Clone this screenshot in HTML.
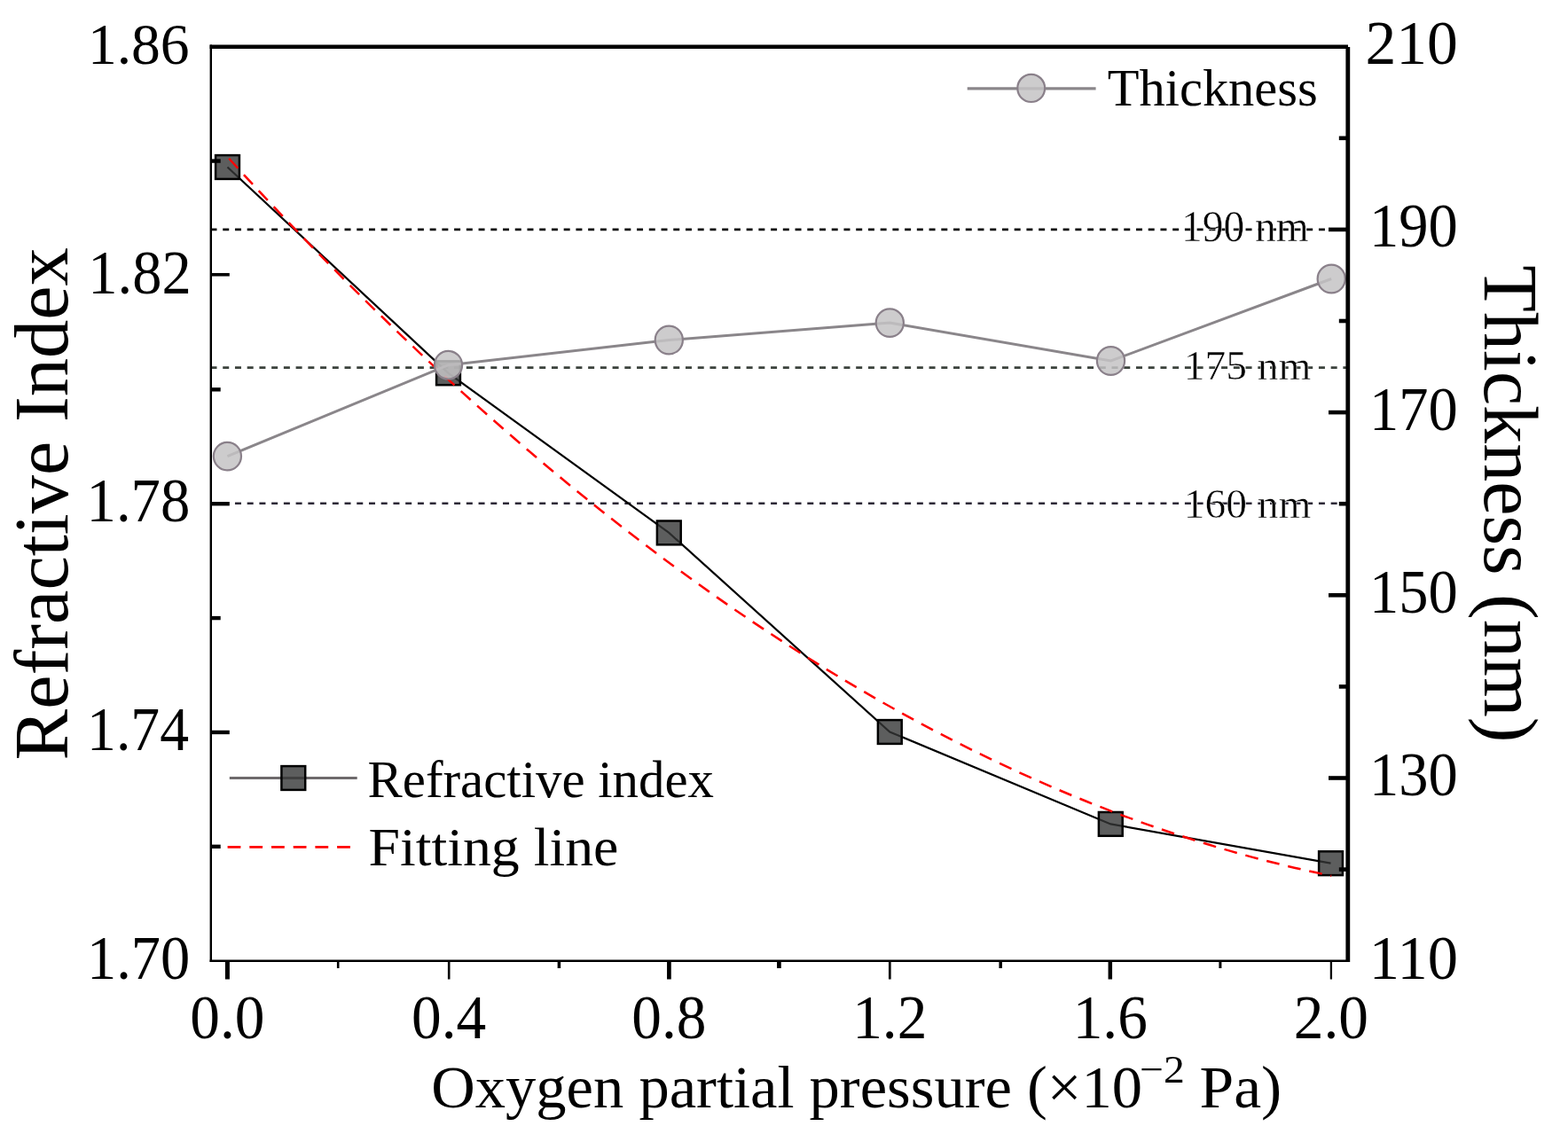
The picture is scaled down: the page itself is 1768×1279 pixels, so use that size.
<!DOCTYPE html>
<html><head><meta charset="utf-8"><title>Refractive index and thickness vs oxygen partial pressure</title>
<style>html,body{margin:0;padding:0;background:#fff;}svg{display:block;}text{font-family:"Liberation Serif","Times New Roman",serif;}</style>
</head><body>
<svg width="1768" height="1279" viewBox="0 0 1768 1279">
<rect x="0" y="0" width="1768" height="1279" fill="#fff"/>
<line x1="237.5" y1="258.9" x2="1518" y2="258.9" stroke="#111" stroke-width="2.6" stroke-dasharray="7 6.73"/>
<line x1="237.5" y1="414.6" x2="1518" y2="414.6" stroke="#3b423c" stroke-width="2.6" stroke-dasharray="7 6.73"/>
<line x1="237.5" y1="567.7" x2="1518" y2="567.7" stroke="#2c2836" stroke-width="2.6" stroke-dasharray="7 6.73"/>
<polyline points="256.5,188.5 505.5,420.8 754.3,600.9 1003.3,825.5 1252.3,929.4 1500.5,973.7" fill="none" stroke="#000" stroke-width="2.2"/>
<rect x="243.1" y="175.1" width="26.8" height="26.8" fill="#343636" fill-opacity="0.8" stroke="#000" stroke-width="2.5"/>
<rect x="492.1" y="407.4" width="26.8" height="26.8" fill="#343636" fill-opacity="0.8" stroke="#000" stroke-width="2.5"/>
<rect x="740.9" y="587.5" width="26.8" height="26.8" fill="#343636" fill-opacity="0.8" stroke="#000" stroke-width="2.5"/>
<rect x="989.9" y="812.1" width="26.8" height="26.8" fill="#343636" fill-opacity="0.8" stroke="#000" stroke-width="2.5"/>
<rect x="1238.9" y="916" width="26.8" height="26.8" fill="#343636" fill-opacity="0.8" stroke="#000" stroke-width="2.5"/>
<rect x="1487.1" y="960.3" width="26.8" height="26.8" fill="#343636" fill-opacity="0.8" stroke="#000" stroke-width="2.5"/>
<path d="M256.5,176.91 Q878.85,860.23 1501.2,987.83" fill="none" stroke="#ff0000" stroke-width="2.5" stroke-dasharray="14.8 9.9" stroke-dashoffset="-2.5"/>
<polyline points="256.4,514.6 505.5,411.7 754.3,383.5 1003.3,364.1 1252.5,407 1501.2,314.5" fill="none" stroke="#8a868a" stroke-width="3"/>
<ellipse cx="256.4" cy="514.6" rx="15.6" ry="15.8" fill="#c4c3c4" fill-opacity="0.85" stroke="#8a808a" stroke-width="2.2"/>
<ellipse cx="505.5" cy="411.7" rx="15.6" ry="15.8" fill="#c4c3c4" fill-opacity="0.85" stroke="#8a808a" stroke-width="2.2"/>
<ellipse cx="754.3" cy="383.5" rx="15.6" ry="15.8" fill="#c4c3c4" fill-opacity="0.85" stroke="#8a808a" stroke-width="2.2"/>
<ellipse cx="1003.3" cy="364.1" rx="15.6" ry="15.8" fill="#c4c3c4" fill-opacity="0.85" stroke="#8a808a" stroke-width="2.2"/>
<ellipse cx="1252.5" cy="407" rx="15.6" ry="15.8" fill="#c4c3c4" fill-opacity="0.85" stroke="#8a808a" stroke-width="2.2"/>
<ellipse cx="1501.2" cy="314.5" rx="15.6" ry="15.8" fill="#c4c3c4" fill-opacity="0.85" stroke="#8a808a" stroke-width="2.2"/>
<line x1="237.8" y1="50.5" x2="237.8" y2="1085" stroke="#000" stroke-width="2.4"/>
<line x1="236.6" y1="52.75" x2="1520" y2="52.75" stroke="#000" stroke-width="4.5"/>
<line x1="1519.8" y1="53" x2="1519.8" y2="1085" stroke="#000" stroke-width="4.8"/>
<line x1="236.6" y1="1083.7" x2="1522" y2="1083.7" stroke="#000" stroke-width="2.5"/>
<line x1="238" y1="181.58" x2="248.7" y2="181.58" stroke="#000" stroke-width="4.4"/>
<line x1="238" y1="309.75" x2="258.8" y2="309.75" stroke="#000" stroke-width="3.6"/>
<line x1="238" y1="439.33" x2="248.7" y2="439.33" stroke="#000" stroke-width="4.4"/>
<line x1="238" y1="568.2" x2="258.8" y2="568.2" stroke="#000" stroke-width="4.4"/>
<line x1="238" y1="697.08" x2="248.7" y2="697.08" stroke="#000" stroke-width="4.4"/>
<line x1="238" y1="825.95" x2="258.8" y2="825.95" stroke="#000" stroke-width="4.4"/>
<line x1="238" y1="954.82" x2="248.7" y2="954.82" stroke="#000" stroke-width="4.4"/>
<line x1="1509.8" y1="155.8" x2="1518" y2="155.8" stroke="#000" stroke-width="4.6"/>
<line x1="1498" y1="258.9" x2="1518" y2="258.9" stroke="#000" stroke-width="4.6"/>
<line x1="1509.8" y1="362" x2="1518" y2="362" stroke="#000" stroke-width="4.6"/>
<line x1="1498" y1="465.1" x2="1518" y2="465.1" stroke="#000" stroke-width="4.6"/>
<line x1="1509.8" y1="568.2" x2="1518" y2="568.2" stroke="#000" stroke-width="4.6"/>
<line x1="1498" y1="671.3" x2="1518" y2="671.3" stroke="#000" stroke-width="4.6"/>
<line x1="1509.8" y1="774.4" x2="1518" y2="774.4" stroke="#000" stroke-width="4.6"/>
<line x1="1498" y1="877.5" x2="1518" y2="877.5" stroke="#000" stroke-width="4.6"/>
<line x1="1509.8" y1="980.6" x2="1518" y2="980.6" stroke="#000" stroke-width="4.6"/>
<line x1="256.4" y1="1084" x2="256.4" y2="1104.5" stroke="#000" stroke-width="5"/>
<line x1="381.2" y1="1084" x2="381.2" y2="1092" stroke="#000" stroke-width="2.6"/>
<line x1="506.2" y1="1084" x2="506.2" y2="1104.5" stroke="#000" stroke-width="2.6"/>
<line x1="630.4" y1="1084" x2="630.4" y2="1092" stroke="#000" stroke-width="3.5"/>
<line x1="754.4" y1="1084" x2="754.4" y2="1104.5" stroke="#000" stroke-width="4.7"/>
<line x1="878.4" y1="1084" x2="878.4" y2="1092" stroke="#000" stroke-width="4.7"/>
<line x1="1003.3" y1="1084" x2="1003.3" y2="1104.5" stroke="#000" stroke-width="2.7"/>
<line x1="1128.2" y1="1084" x2="1128.2" y2="1092" stroke="#000" stroke-width="3.5"/>
<line x1="1251.8" y1="1084" x2="1251.8" y2="1104.5" stroke="#000" stroke-width="4.5"/>
<line x1="1375.9" y1="1084" x2="1375.9" y2="1092" stroke="#000" stroke-width="3"/>
<line x1="1500.9" y1="1084" x2="1500.9" y2="1104.5" stroke="#000" stroke-width="2.3"/>
<line x1="1090.7" y1="99.9" x2="1235.6" y2="99.9" stroke="#8a868a" stroke-width="3.2"/>
<ellipse cx="1162.7" cy="99.4" rx="15.4" ry="15.6" fill="#c4c3c4" fill-opacity="0.85" stroke="#8a808a" stroke-width="2.2"/>
<line x1="258.8" y1="877.4" x2="402.7" y2="877.4" stroke="#6e6a6c" stroke-width="3"/>
<rect x="317.4" y="864.1" width="26.8" height="26.8" fill="#343636" fill-opacity="0.8" stroke="#000" stroke-width="2.5"/>
<line x1="256.6" y1="955.3" x2="395.4" y2="955.3" stroke="#ff0000" stroke-width="2.8" stroke-dasharray="14.8 9.9"/>
<text x="98.9" y="72.27" font-size="66.42" textLength="114.77" lengthAdjust="spacingAndGlyphs" fill="#000">1.86</text>
<text x="99.31" y="331.15" font-size="69.25" textLength="116.37" lengthAdjust="spacingAndGlyphs" fill="#000">1.82</text>
<text x="97.59" y="588.16" font-size="68.96" textLength="116.77" lengthAdjust="spacingAndGlyphs" fill="#000">1.78</text>
<text x="98.09" y="845.86" font-size="68.96" textLength="114.92" lengthAdjust="spacingAndGlyphs" fill="#000">1.74</text>
<text x="98.02" y="1104.15" font-size="69.1" textLength="116.34" lengthAdjust="spacingAndGlyphs" fill="#000">1.70</text>
<text x="1539.42" y="72.15" font-size="69.1" textLength="104.37" lengthAdjust="spacingAndGlyphs" fill="#000">210</text>
<text x="1543.92" y="278.35" font-size="69.1" textLength="99.74" lengthAdjust="spacingAndGlyphs" fill="#000">190</text>
<text x="1543.92" y="484.55" font-size="69.1" textLength="99.74" lengthAdjust="spacingAndGlyphs" fill="#000">170</text>
<text x="1543.92" y="690.75" font-size="69.1" textLength="99.74" lengthAdjust="spacingAndGlyphs" fill="#000">150</text>
<text x="1543.92" y="896.95" font-size="69.1" textLength="99.74" lengthAdjust="spacingAndGlyphs" fill="#000">130</text>
<text x="1543.74" y="1103.96" font-size="68.96" textLength="100.21" lengthAdjust="spacingAndGlyphs" fill="#000">110</text>
<text x="214.31" y="1170.75" font-size="69.4" textLength="84.19" lengthAdjust="spacingAndGlyphs" fill="#000">0.0</text>
<text x="464.11" y="1170.75" font-size="69.4" textLength="84.19" lengthAdjust="spacingAndGlyphs" fill="#000">0.4</text>
<text x="712.31" y="1170.75" font-size="69.4" textLength="84.19" lengthAdjust="spacingAndGlyphs" fill="#000">0.8</text>
<text x="961.21" y="1170.75" font-size="69.4" textLength="84.19" lengthAdjust="spacingAndGlyphs" fill="#000">1.2</text>
<text x="1209.71" y="1170.75" font-size="69.4" textLength="84.19" lengthAdjust="spacingAndGlyphs" fill="#000">1.6</text>
<text x="1458.81" y="1170.75" font-size="69.4" textLength="84.19" lengthAdjust="spacingAndGlyphs" fill="#000">2.0</text>
<text x="1332.03" y="272.44" font-size="51.64" textLength="143.62" lengthAdjust="spacingAndGlyphs" fill="#000" stroke="#fff" stroke-width="0.5">190 nm</text>
<text x="1334.72" y="427.56" font-size="47.31" textLength="143.83" lengthAdjust="spacingAndGlyphs" fill="#000" stroke="#fff" stroke-width="0.5">175 nm</text>
<text x="1334.72" y="583.56" font-size="47.46" textLength="143.83" lengthAdjust="spacingAndGlyphs" fill="#000" stroke="#fff" stroke-width="0.5">160 nm</text>
<text x="1248.73" y="119.4" font-size="60" textLength="237.1" lengthAdjust="spacingAndGlyphs" fill="#000">Thickness</text>
<text x="414.53" y="899.4" font-size="59.7" textLength="390.49" lengthAdjust="spacingAndGlyphs" fill="#000">Refractive index</text>
<text x="415.59" y="975.9" font-size="61.5" textLength="281.78" lengthAdjust="spacingAndGlyphs" fill="#000">Fitting line</text>
<text x="486.36" y="1249.2" font-size="68" textLength="801.63" lengthAdjust="spacingAndGlyphs" fill="#000">Oxygen partial pressure (×10</text>
<text x="1285.01" y="1220.7" font-size="44.56" textLength="50.76" lengthAdjust="spacingAndGlyphs" fill="#000">−2</text>
<text x="1352.51" y="1249.2" font-size="68" textLength="92.68" lengthAdjust="spacingAndGlyphs" fill="#000">Pa)</text>
<text transform="translate(75.5,854.9) rotate(-90)" x="-2.59" y="0" font-size="86.9" textLength="578.24" lengthAdjust="spacingAndGlyphs" fill="#000">Refractive Index</text>
<text transform="translate(1673.6,301) rotate(90)" x="-1.72" y="0" font-size="86.7" textLength="538.21" lengthAdjust="spacingAndGlyphs" fill="#000">Thickness (nm)</text>
</svg>
</body></html>
